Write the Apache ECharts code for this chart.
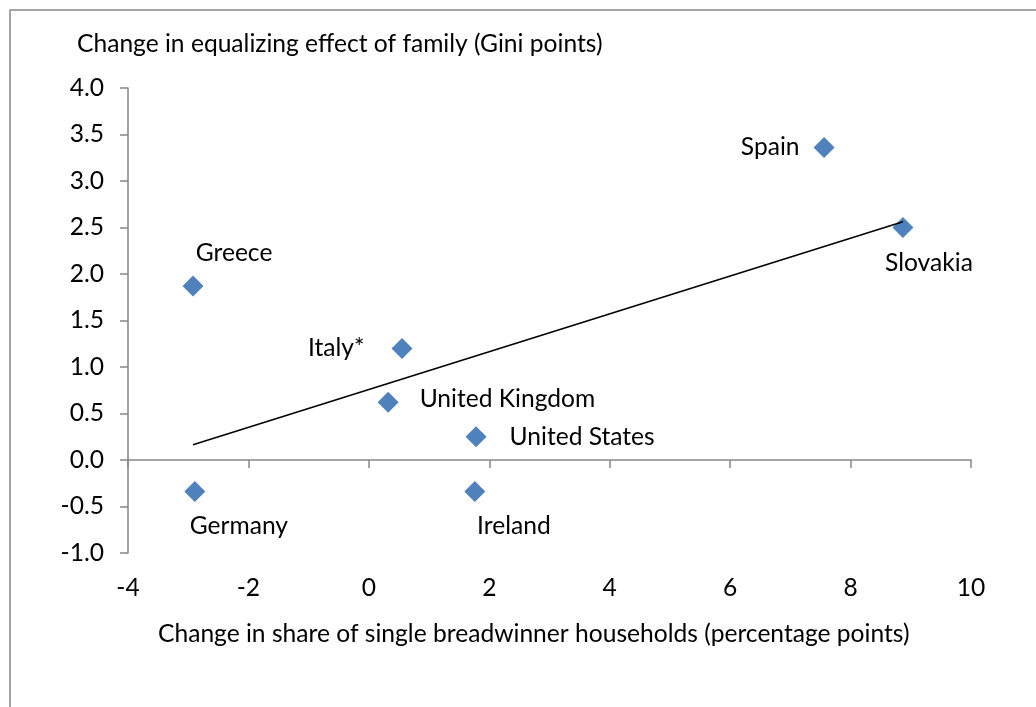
<!DOCTYPE html>
<html>
<head>
<meta charset="utf-8">
<script src="https://cdn.jsdelivr.net/npm/echarts@6/dist/echarts.min.js"></script>
<style>
  html, body { margin: 0; padding: 0; background: #fff; }
  #chart { width: 1036px; height: 707px; }
</style>
</head>
<body>
<div id="chart"></div>
<script>
var countries = ['Greece', 'Germany', 'Italy*', 'United Kingdom', 'United States', 'Ireland', 'Spain', 'Slovakia'];
var singleShare = [-2.92, -2.89, 0.55, 0.32, 1.78, 1.76, 7.56, 8.87];
var familyEffect = [1.87, -0.34, 1.20, 0.62, 0.25, -0.34, 3.36, 2.50];
var xTicks = [-4, -2, 0, 2, 4, 6, 8, 10];

// label placement per country
var labelPos = {
    'Greece': ['top', [41, -5]],
    'Germany': ['bottom', [44, 6]],
    'Italy*': ['left', [-22, 0]],
    'United Kingdom': ['right', [16, -3]],
    'United States': ['right', [18, 0]],
    'Ireland': ['bottom', [39, 6]],
    'Spain': ['left', [-9, 0]],
    'Slovakia': ['bottom', [26, 8]]
};

var points = countries.map(function (c, i) {
    return {
        name: c,
        value: [singleShare[i], familyEffect[i]],
        label: { position: labelPos[c][0], offset: labelPos[c][1] }
    };
});

// least squares trend line
var n = singleShare.length, mx = 0, my = 0;
for (var i = 0; i < n; i++) { mx += singleShare[i]; my += familyEffect[i]; }
mx /= n; my /= n;
var sxy = 0, sxx = 0;
for (var i = 0; i < n; i++) {
    sxy += (singleShare[i] - mx) * (familyEffect[i] - my);
    sxx += (singleShare[i] - mx) * (singleShare[i] - mx);
}
var slope = sxy / sxx, icpt = my - slope * mx;
var x0 = Math.min.apply(null, singleShare), x1 = Math.max.apply(null, singleShare);
var trend = [[x0, icpt + slope * x0], [x1, icpt + slope * x1]];

var font = 'Lato, "Open Sans", sans-serif';
var fs = 24.6;
var axisColor = '#868686';

var myChart = echarts.init(document.getElementById('chart'));
myChart.setOption({
    animation: false,
    backgroundColor: '#fff',
    textStyle: { fontFamily: font },
    grid: { left: 128, right: 65, top: 88, bottom: 154 },
    graphic: [
        {
            type: 'rect',
            shape: { x: 10, y: 10, width: 1100, height: 800 },
            style: { fill: 'none', stroke: '#888', lineWidth: 1.5 }
        },
        {
            type: 'text', left: 77, top: 32,
            style: { text: 'Change in equalizing effect of family (Gini points)', fontSize: fs, fontFamily: font, fill: '#000' }
        },
        {
            type: 'text', left: 158, top: 622,
            style: { text: 'Change in share of single breadwinner households (percentage points)', fontSize: fs, fontFamily: font, fill: '#000' }
        }
    ],
    xAxis: [{
        type: 'value', min: -4, max: 10, interval: 2,
        axisLine: { onZero: true, lineStyle: { color: axisColor, width: 1.5 } },
        axisTick: { show: true, length: 8, lineStyle: { color: axisColor, width: 1.5 } },
        axisLabel: { show: false },
        splitLine: { show: false }
    }, {
        type: 'value', min: -4, max: 10, interval: 2, position: 'bottom',
        axisLine: { show: false, onZero: false },
        axisTick: { show: false },
        axisLabel: {
            margin: 23, fontSize: fs, color: '#000', fontFamily: font,
            formatter: function (v) { return xTicks.indexOf(v) >= 0 ? String(v) : ''; }
        },
        splitLine: { show: false }
    }],
    yAxis: {
        type: 'value', min: -1, max: 4, interval: 0.5,
        axisLine: { show: true, onZero: false, lineStyle: { color: axisColor, width: 1.5 } },
        axisTick: { show: true, length: 8, lineStyle: { color: axisColor, width: 1.5 } },
        axisLabel: {
            margin: 24, fontSize: fs, color: '#000', fontFamily: font,
            formatter: function (v) { return v.toFixed(1); }
        },
        splitLine: { show: false }
    },
    series: [{
        type: 'line',
        data: trend,
        symbol: 'none',
        lineStyle: { color: '#000', width: 1.5 },
        z: 3
    }, {
        type: 'scatter',
        data: points,
        symbol: 'diamond',
        symbolSize: 21,
        itemStyle: { color: '#4F81BD', opacity: 1 },
        label: {
            show: true, fontSize: fs, color: '#000', fontFamily: font,
            formatter: function (p) { return p.name; }
        },
        z: 2
    }]
});
</script>
</body>
</html>
